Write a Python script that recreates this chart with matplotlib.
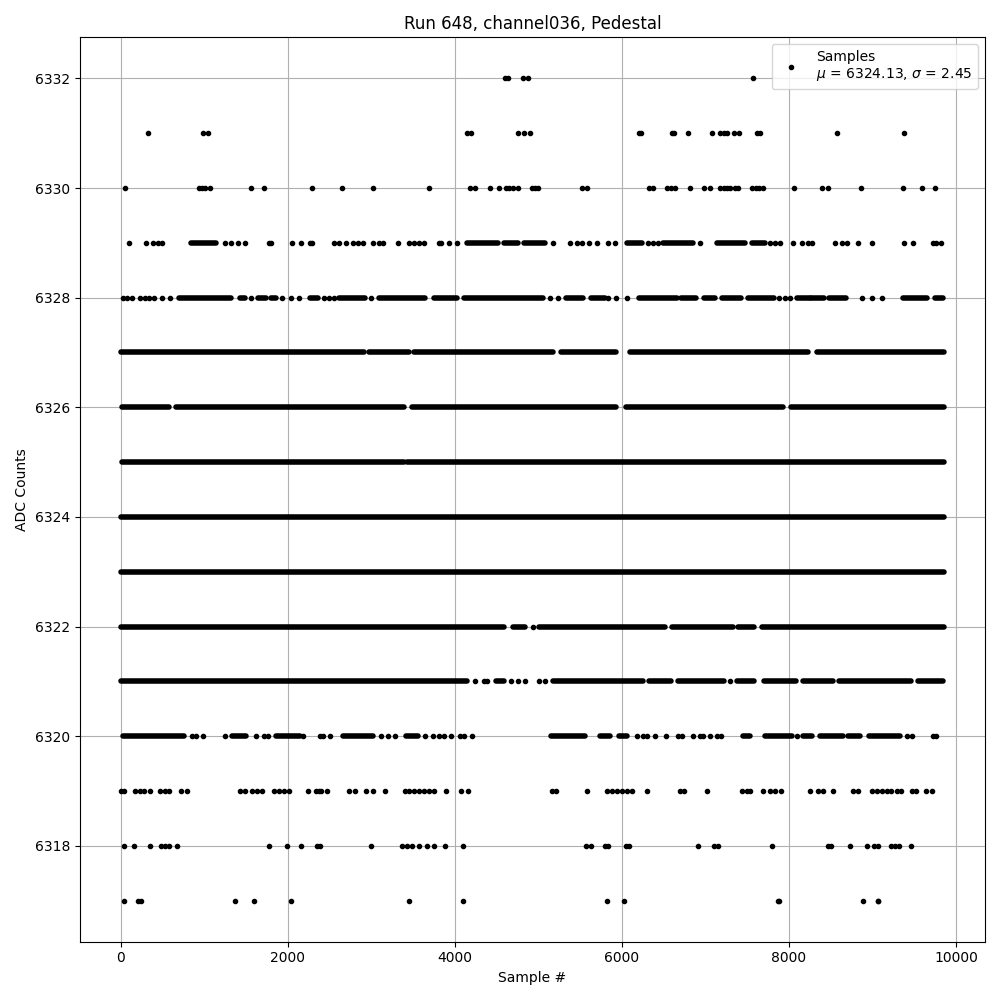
import matplotlib
matplotlib.use("Agg")
import matplotlib.pyplot as plt

run_number = 648
channel = "channel036"
mean_adc = 6324.13
std_adc = 2.45

# isolated samples (sample index) at each ADC level
pts_6332 = [4600, 4640, 4820, 4880, 7570]
pts_6331 = [330, 980, 1040, 4150, 4190, 4760, 4830, 4900, 6200, 6225, 6600, 6620,
            6790, 7080, 7180, 7220, 7260, 7340, 7400, 7620, 7650, 8575, 9380]
pts_6330 = [48, 940, 970, 1005, 1066, 1557, 1713, 2287, 2647, 3018, 3689, 4180,
            4240, 4419, 4527, 4611, 4650, 4700, 4754, 4920, 4955, 4990, 5521, 5581,
            6323, 6371, 6540, 6590, 6635, 6814, 6982, 7054, 7180, 7220, 7260, 7300,
            7350, 7390, 7560, 7600, 7640, 7690, 8060, 8395, 8467, 8862, 9365, 9593, 9749]
pts_6329 = [96, 299, 383, 443, 491, 1246, 1317, 1401, 1485, 1770, 1795, 2048, 2156,
            2265, 2285, 2551, 2611, 2695, 2778, 2838, 2898, 3018, 3090, 3138, 3317,
            3449, 3509, 3569, 3629, 3808, 3830, 3928, 4024, 5174, 5377, 5461, 5521,
            5605, 5701, 5832, 5916, 6311, 6371, 6431, 6934, 7772, 7832, 7892, 8048,
            8156, 8228, 8275, 8551, 8635, 8695, 8826, 8994, 9377, 9485, 9725, 9760, 9820]
pts_6328 = [28, 80, 140, 232, 287, 339, 399, 499, 591, 1557, 1936, 2036, 2136, 2435,
            2495, 2555, 2994, 5138, 5238, 5836, 5928, 6056, 7880, 7952, 8012, 8880,
            9000, 9120]
pts_6322 = [4930]
pts_6321 = [4240, 4350, 4390, 4670, 4760, 4840, 5010, 5080, 7290]
pts_6320 = [858, 898, 986, 1245, 1617, 1717, 1768, 2176, 2387, 2427, 2507, 3114,
            3194, 3281, 3641, 3740, 3812, 3872, 3952, 4060, 4104, 4204, 6184, 6256,
            6304, 6399, 6531, 6674, 6714, 6846, 6934, 6974, 7054, 7134, 7186, 8092,
            9409, 9469, 9720, 9760]
pts_6319 = [8, 40, 172, 232, 279, 351, 471, 527, 579, 719, 798, 1429, 1485, 1565,
            1629, 1689, 1836, 1896, 1956, 2016, 2243, 2335, 2375, 2403, 2467, 2738,
            2802, 2930, 3018, 3162, 3401, 3453, 3505, 3573, 3633, 3693, 3745, 3896,
            4072, 4152, 5158, 5206, 5577, 5817, 5877, 5936, 5996, 6056, 6116, 6295,
            6694, 6742, 7022, 7442, 7493, 7533, 7693, 7772, 7832, 7908, 8252, 8352,
            8411, 8531, 8762, 8830, 8990, 9050, 9110, 9170, 9218, 9298, 9338, 9469,
            9521, 9641, 9709]
pts_6318 = [40, 160, 351, 479, 531, 579, 667, 1777, 1992, 2160, 2355, 2387, 2998,
            3365, 3425, 3481, 3573, 3661, 3745, 3884, 4100, 5569, 5625, 5793, 5836,
            6044, 6084, 6914, 7102, 7154, 7800, 8467, 8503, 8735, 8930, 9018, 9070,
            9218, 9270, 9322, 9461]
pts_6317 = [40, 208, 240, 1365, 1597, 2040, 3445, 4092, 5824, 6028, 7870, 7880,
            8890, 9062, 9070]

# stretches (first, last sample) where the dots at a level merge into a solid band
runs_6329 = [(838, 1138), (4144, 4515), (4587, 4754), (4826, 5078), (6060, 6240),
             (6491, 6850), (7138, 7473), (7557, 7713)]
runs_6328 = [(691, 1325), (1429, 1485), (1637, 1737), (1804, 1856), (2267, 2363),
             (2615, 2922), (3086, 3641), (3745, 4020), (4104, 5050), (5325, 5529),
             (5625, 5797), (6204, 6655), (6703, 6886), (6982, 7114), (7202, 7425),
             (7513, 7824), (8092, 8248), (8268, 8425), (8481, 8685), (9370, 9650),
             (9748, 9848)]
runs_6327 = [(8, 2914), (2974, 3453), (3513, 5170), (5270, 5928), (6096, 8224),
             (8340, 9855)]
runs_6326 = [(10, 579), (659, 3385), (3485, 5928), (6044, 7932), (8020, 9855)]
runs_6325 = [(10, 3390), (3430, 9855)]
runs_6324 = [(5, 9855)]
runs_6323 = [(0, 9855)]
runs_6322 = [(0, 4590), (4700, 4842), (5010, 6515), (6595, 7333), (7393, 7585),
             (7680, 9855)]
runs_6321 = [(8, 4144), (4490, 4590), (5170, 6248), (6323, 6587), (6675, 7217),
             (7381, 7585), (7700, 8090), (8164, 8524), (8598, 9461), (9549, 9848)]
runs_6320 = [(28, 758), (1337, 1497), (1856, 2148), (2655, 3014), (3413, 3553),
             (5146, 5557), (5735, 5856), (5968, 6064), (7453, 7533), (7713, 8032),
             (8172, 8272), (8370, 8644), (8710, 8850), (8958, 9329)]

points = [(6332, pts_6332), (6331, pts_6331), (6330, pts_6330), (6329, pts_6329),
          (6328, pts_6328), (6322, pts_6322), (6321, pts_6321), (6320, pts_6320),
          (6319, pts_6319), (6318, pts_6318), (6317, pts_6317)]
runs = [(6329, runs_6329), (6328, runs_6328), (6327, runs_6327), (6326, runs_6326),
        (6325, runs_6325), (6324, runs_6324), (6323, runs_6323), (6322, runs_6322),
        (6321, runs_6321), (6320, runs_6320)]

xs, ys = [], []
for level, samples in points:
    xs += samples
    ys += [level] * len(samples)

fig, ax = plt.subplots(figsize=(10, 10))

for level, spans in runs:
    for first, last in spans:
        ax.plot([first, last], [level, level], color="k", lw=4, solid_capstyle="round")

ax.plot(xs, ys, "k.",
        label=f"Samples\n$\\mu$ = {mean_adc:.2f}, $\\sigma$ = {std_adc:.2f}")

ax.set_title(f"Run {run_number}, {channel}, Pedestal")
ax.set_xlabel("Sample #")
ax.set_ylabel("ADC Counts")
ax.grid(True)
ax.legend(loc="upper right")

fig.tight_layout()
plt.savefig("out.png", dpi=100)
